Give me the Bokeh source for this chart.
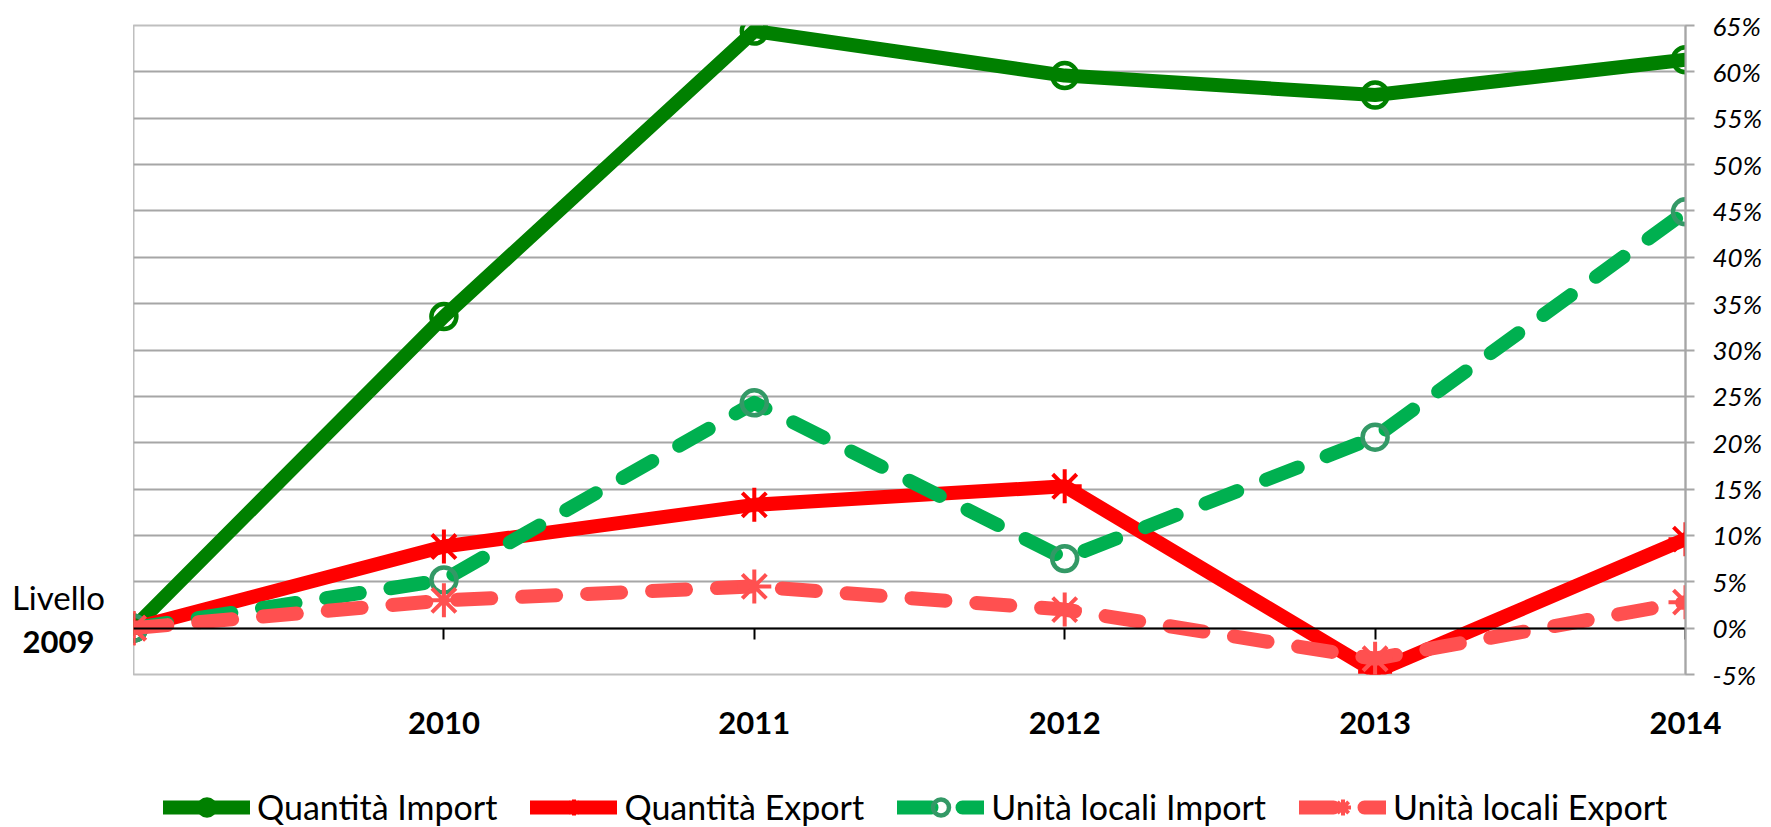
from bokeh.plotting import figure
from bokeh.models import Range1d, FixedTicker, LinearAxis, Legend, LegendItem
from bokeh.layouts import column, row
from bokeh.core.properties import value
from bokeh.embed import file_html
from bokeh.resources import INLINE

# ---- data ----
years = [2009, 2010, 2011, 2012, 2013, 2014]
year_labels = ["2009", "2010", "2011", "2012", "2013", "2014"]
base_label = "Livello"
series_names = ["Quantità Import", "Quantità Export", "Unità locali Import", "Unità locali Export"]
quantita_import = [0.0, 33.6, 64.4, 59.6, 57.5, 61.3]
quantita_export = [0.0, 8.8, 13.3, 15.3, -4.7, 9.6]
unita_import = [0.0, 5.2, 24.3, 7.5, 20.6, 44.9]
unita_export = [0.0, 3.0, 4.5, 2.0, -3.3, 2.8]
y_ticks = [-5, 0, 5, 10, 15, 20, 25, 30, 35, 40, 45, 50, 55, 60, 65]
y_tick_labels = ["-5%", "0%", "5%", "10%", "15%", "20%", "25%", "30%", "35%",
                 "40%", "45%", "50%", "55%", "60%", "65%"]

FONT = "Lato"
MAIN_H = 785
TOP, BOTTOM = 25, 111

y_range = Range1d(y_ticks[0], y_ticks[-1])

p = figure(width=1638, height=MAIN_H, output_backend="svg", toolbar_location=None,
           x_range=Range1d(years[0], years[-1]), y_range=y_range,
           y_axis_location="right",
           min_border_left=0, min_border_right=86, min_border_top=TOP, min_border_bottom=BOTTOM,
           background_fill_color="white", border_fill_color="white")

p.outline_line_color = "#BFBFBF"
p.outline_line_width = 2

p.xgrid.visible = False
p.ygrid.ticker = FixedTicker(ticks=y_ticks)
p.ygrid.grid_line_color = "#A6A6A6"
p.ygrid.grid_line_width = 2

# right y axis
ya = p.yaxis[0]
ya.ticker = FixedTicker(ticks=y_ticks)
ya.major_label_overrides = dict(zip(y_ticks, y_tick_labels))
ya.axis_line_color = "#A6A6A6"
ya.axis_line_width = 2
ya.major_tick_line_color = "#A6A6A6"
ya.major_tick_line_width = 2
ya.major_tick_out = 9
ya.major_tick_in = 0
ya.minor_tick_line_color = None
ya.minor_tick_out = 0
ya.major_label_text_font = FONT
ya.major_label_text_font_size = "26px"
ya.major_label_text_font_style = "italic"
ya.major_label_text_color = "black"
ya.major_label_standoff = 18

# x labels axis (bottom)
xa = p.xaxis[0]
xa.ticker = FixedTicker(ticks=years[1:])
xa.major_label_overrides = dict(zip(years[1:], year_labels[1:]))
xa.axis_line_color = None
xa.major_tick_line_color = None
xa.minor_tick_line_color = None
xa.major_tick_out = 0
xa.major_tick_in = 0
xa.minor_tick_out = 0
xa.major_label_text_font = FONT
xa.major_label_text_font_size = "31px"
xa.major_label_text_font_style = "bold"
xa.major_label_text_color = "black"
xa.major_label_standoff = 37

# zero line axis
zero_axis = LinearAxis(fixed_location=0, ticker=FixedTicker(ticks=years[1:]),
                       axis_line_color="black", axis_line_width=2,
                       major_tick_line_color="black", major_tick_line_width=2,
                       major_tick_out=11, major_tick_in=0,
                       minor_tick_line_color=None, minor_tick_out=0,
                       major_label_text_color=None,
                       major_label_overrides={y: "" for y in years[1:]})
p.add_layout(zero_axis, "below")

# series styles
styles = [
    dict(color="#008000", dash="solid", marker="circle", mcolor="#008000", msize=25, mlw=4.5),
    dict(color="#FF0000", dash="solid", marker="asterisk", mcolor="#FF0000", msize=34, mlw=4),
    dict(color="#00B050", dash="34 31", marker="circle", mcolor="#339966", msize=25, mlw=4.5),
    dict(color="#FF5050", dash="34 31", marker="asterisk", mcolor="#FF5050", msize=34, mlw=4),
]
series = [quantita_import, quantita_export, unita_import, unita_export]
LW = 14


def draw(fig, vals, st):
    ln = fig.line(years, vals, line_color=st["color"], line_width=LW, line_dash=st["dash"],
                  line_join="round", line_cap="round")
    sc = fig.scatter(years, vals, marker=st["marker"], size=st["msize"],
                     line_color=st["mcolor"], line_width=st["mlw"], fill_color=None)
    return ln, sc


for vals, st in zip(series, styles):
    draw(p, vals, st)

# ---- left strip with the "Livello 2009" label ----
left = figure(width=133, height=MAIN_H, output_backend="svg", toolbar_location=None,
              x_range=Range1d(0, 1), y_range=y_range,
              x_axis_location=None, y_axis_location=None,
              min_border_left=0, min_border_right=0, min_border_top=TOP, min_border_bottom=BOTTOM,
              background_fill_color="white", border_fill_color="white")
left.grid.visible = False
left.outline_line_color = None
left.text(x=[1], y=[0], text=[base_label], x_offset=-75, y_offset=-31,
          text_font=value(FONT), text_font_size="33px", text_align="center",
          text_baseline="middle", text_color="black")
left.text(x=[1], y=[0], text=[year_labels[0]], x_offset=-75, y_offset=14,
          text_font=value(FONT), text_font_size="31px", text_font_style="bold",
          text_align="center", text_baseline="middle", text_color="black")

# ---- legend strip ----
leg = figure(width=1771, height=827 - MAIN_H, output_backend="svg", toolbar_location=None,
             x_range=Range1d(0, 1), y_range=Range1d(0, 1),
             x_axis_location=None, y_axis_location=None,
             min_border_left=0, min_border_right=0, min_border_top=0, min_border_bottom=0,
             background_fill_color="white", border_fill_color="white")
leg.grid.visible = False
leg.outline_line_color = None
items = []
for name, vals, st in zip(series_names, series, styles):
    ln, sc = draw(leg, vals, st)
    items.append(LegendItem(label=name, renderers=[ln, sc]))

legend = Legend(items=items, orientation="horizontal", location=(163, 0),
                glyph_width=87, glyph_height=40, label_height=36, label_standoff=7,
                spacing=33, padding=0, margin=0,
                border_line_color=None, background_fill_alpha=0,
                label_text_font=FONT, label_text_font_size="34px", label_text_color="black")
leg.add_layout(legend)

layout = column(row(left, p), leg)
open("out.html", "w").write(file_html(layout, INLINE))
